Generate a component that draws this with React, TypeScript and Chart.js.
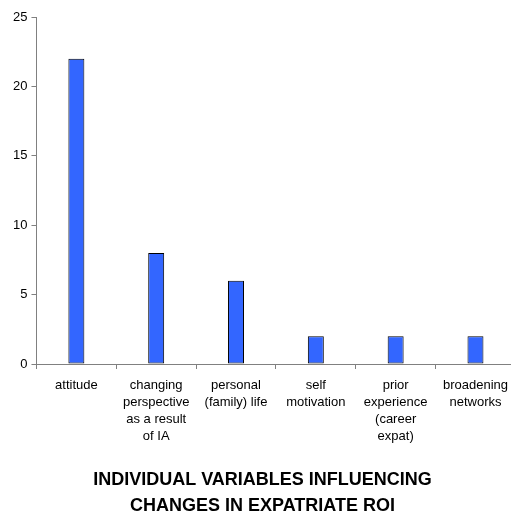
import React, { useEffect, useRef } from "react";
import { Chart, registerables } from "chart.js";

Chart.register(...registerables);

const categories: string[][] = [
  ["attitude"],
  ["changing", "perspective", "as a result", "of IA"],
  ["personal", "(family) life"],
  ["self", "motivation"],
  ["prior", "experience", "(career", "expat)"],
  ["broadening", "networks"],
];
const values: number[] = [22, 8, 6, 2, 2, 2];
const yTicks = { min: 0, max: 25, step: 5 };
const titleLines: string[] = [
  "INDIVIDUAL VARIABLES INFLUENCING",
  "CHANGES IN EXPATRIATE ROI",
];

export default function App() {
  const ref = useRef<HTMLCanvasElement | null>(null);
  useEffect(() => {
    if (!ref.current) return;
    const axisColor = "#808080";
    const font = { family: "'Liberation Sans', Arial, sans-serif", size: 13, lineHeight: "17px" };
    const chart = new Chart(ref.current, {
      type: "bar",
      data: {
        labels: categories,
        datasets: [
          {
            data: values,
            backgroundColor: "#3366FF",
            borderColor: "#000000",
            borderWidth: 1,
            borderSkipped: false,
            categoryPercentage: 1,
            barPercentage: 0.2,
          },
        ],
      },
      options: {
        responsive: false,
        animation: false,
        devicePixelRatio: 1,
        layout: { padding: { top: 17, left: 9, right: 0, bottom: 0 } },
        plugins: {
          legend: { display: false },
          tooltip: { enabled: false },
          title: {
            display: true,
            position: "bottom",
            text: titleLines,
            color: "#000000",
            font: { family: "'Liberation Sans', Arial, sans-serif", size: 18, weight: "bold", lineHeight: "26px" },
            padding: { top: 14, bottom: 0 },
          },
        },
        scales: {
          x: {
            grid: {
              offset: true,
              drawOnChartArea: false,
              drawTicks: true,
              tickLength: 5,
              color: axisColor,
            },
            border: { color: axisColor, width: 1 },
            ticks: { color: "#000000", font, padding: 8, maxRotation: 0, autoSkip: false },
          },
          y: {
            min: yTicks.min,
            max: yTicks.max,
            grid: {
              drawOnChartArea: false,
              drawTicks: true,
              tickLength: 5,
              color: axisColor,
            },
            border: { color: axisColor, width: 1 },
            ticks: { stepSize: yTicks.step, color: "#000000", font, padding: 4 },
          },
        },
      },
    });
    return () => chart.destroy();
  }, []);
  return (
    <div style={{ position: "absolute", left: 0, top: 0, width: 511, height: 519, overflow: "hidden", background: "#fff" }}>
      <canvas ref={ref} width={516} height={519} style={{ display: "block" }} />
    </div>
  );
}
